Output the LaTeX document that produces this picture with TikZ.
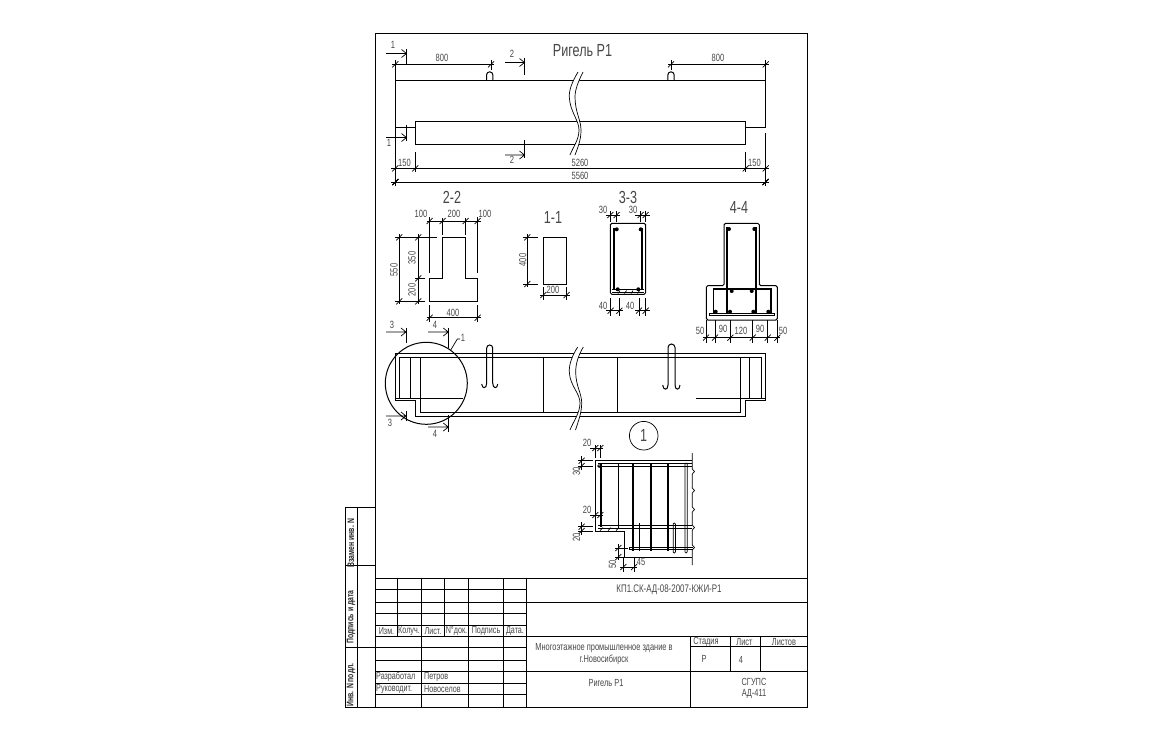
\documentclass[tikz,border=0pt]{standalone}
\usepackage{fontspec}
\setmainfont[FakeStretch=0.72]{Liberation Sans}
\newcount\labno
\tikzset{
  x=1pt,y=-1pt,
  ln/.style={line width=1pt,black},
  thk/.style={line width=1.7pt,black},
  thn/.style={line width=.7pt,black},
  dm/.style={line width=.7pt,black},
  arr/.style={line width=.7pt,black},
  txt/.style={inner sep=0pt,text=black!72,font=\fontsize{10.5}{11}\selectfont},
  blk/.style={inner sep=0pt,text=black!72,font=\fontsize{10.3}{11}\selectfont},
  big/.style={inner sep=0pt,text=black!72,font=\fontsize{17.5}{18}\selectfont},
  sm/.style={inner sep=0pt,text=black!72,font=\fontsize{10}{11}\selectfont},
  side/.style={inner sep=0pt,rotate=90,text=black!85,font=\fontsize{9.5}{10}\bfseries\selectfont},
  bar/.style={circle,fill=black,inner sep=0pt,minimum size=4pt}
}
\newcommand{\lab}[4][txt]{\global\advance\labno by 1 \node[#1] (lab\the\labno) at (#2,#3) {#4};}
\newcommand{\tk}[2]{\draw[dm] (#1-3,#2+3) -- (#1+3,#2-3);}
\newcommand{\hdim}[3]{\draw[dm] (#2-3,#1) -- (#3+3,#1); \tk{#2}{#1} \tk{#3}{#1}}
\newcommand{\vdim}[3]{\draw[dm] (#1,#2-3) -- (#1,#3+3); \tk{#1}{#2} \tk{#1}{#3}}
\newcommand{\secmark}[4]{\draw[arr] (#1,#3) -- (#2,#3) (#2-5,#3-4) -- (#2,#3) -- (#2-5,#3+4); \draw[arr] (#2,#3) -- (#2,#4);}
\begin{document}
\begin{tikzpicture}
\useasboundingbox (0,0) rectangle (1153,740);
\fill[white] (0,0) rectangle (1153,740);
% sheet frame
\draw[ln] (375,33.5) rectangle (807,707);
\draw[ln] (345.5,507) rectangle (375,707);
\draw[ln] (357,507) -- (357,707) (345.5,565.5) -- (375,565.5) (345.5,647) -- (375,647);
% title block
\foreach \yy in {589,613.5,625,647,660,683,694} \draw[ln] (375,\yy) -- (526,\yy);
\foreach \yy in {578,602,636,671} \draw[ln] (375,\yy) -- (807,\yy);
\foreach \xx in {397.3,444.3} \draw[ln] (\xx,578) -- (\xx,636);
\foreach \xx in {421.3,468.3,503.7,526} \draw[ln] (\xx,578) -- (\xx,707);
\draw[ln] (690.3,636) -- (690.3,707) (730,636) -- (730,671) (760.7,636) -- (760.7,671) (690.3,646) -- (807,646);
\lab[side]{351}{543}{Взамен инв. N}
\lab[side]{351}{617}{Подпись и дата}
\lab[side]{351}{685}{Инв. N подл.}
\lab[sm]{386.5}{631}{Изм.}
\lab[sm]{409}{631}{Колуч.}
\lab[sm]{433}{631}{Лист.}
\lab[sm]{456.5}{631}{N°док.}
\lab[sm]{486}{631}{Подпись}
\lab[sm]{515}{631}{Дата.}
\lab[sm,anchor=west]{376}{677}{Разработал}
\lab[sm,anchor=west]{424}{677}{Петров}
\lab[sm,anchor=west]{376}{689}{Руководит.}
\lab[sm,anchor=west]{424}{689}{Новоселов}
\lab[txt,font=\fontsize{11}{12}\selectfont]{669}{590}{КП1.СК-АД-08-2007-КЖИ-Р1}
\lab[blk]{604}{648}{Многоэтажное промышленное здание в}
\lab[blk]{604}{660}{г.Новосибирск}
\lab[blk]{606}{683}{Ригель Р1}
\lab[blk]{706}{642}{Стадия}
\lab[blk]{744.5}{642}{Лист}
\lab[blk]{784}{642}{Листов}
\lab[blk]{704}{659}{Р}
\lab[blk]{741}{660}{4}
\lab[blk]{754}{682}{СГУПС}
\lab[blk]{754}{694}{АД-411}
% ---- elevation
\lab[big]{582.5}{50.5}{Ригель Р1}
\draw[ln] (395.3,127.3) -- (395.3,80.3) -- (765.7,80.3) -- (765.7,127.3) -- (745.7,127.3) (745.7,121) -- (745.7,144.3) -- (415.3,144.3) -- (415.3,121) -- cycle (415.3,127.3) -- (395.3,127.3);
\fill[white] (578,72) .. controls (572,82) and (569,90) .. (569.3,97) .. controls (570,112) and (579,120) .. (579,130) .. controls (579,140) and (573,147) .. (570,155) -- (575,155) .. controls (578,147) and (581,140) .. (581,130) .. controls (581,120) and (575,112) .. (575,97) .. controls (575,90) and (578,82) .. (583,72) -- cycle;
\draw[thn] (578,72) .. controls (572,82) and (569,90) .. (569.3,97) .. controls (570,112) and (579,120) .. (579,130) .. controls (579,140) and (573,147) .. (570,155);
\draw[thn] (583,72) .. controls (578,82) and (575,90) .. (575,97) .. controls (575,112) and (581,120) .. (581,130) .. controls (581,140) and (578,147) .. (575,155);
\draw[ln] (486.5,80) -- (486.5,75) arc[start angle=180,end angle=360,radius=3.2] -- (492.9,80);
\draw[ln] (667.8,80) -- (667.8,75) arc[start angle=180,end angle=360,radius=3.2] -- (674.2,80);
\hdim{64.3}{395.3}{491}
\hdim{64.3}{671}{765.7}
\draw[dm] (395.3,60) -- (395.3,80) (491,60) -- (491,70) (671,60) -- (671,70) (765.7,60) -- (765.7,80);
\lab{442}{58}{800}
\lab{718}{58}{800}
\secmark{386}{406.5}{53.5}{65}
\draw[arr] (406.5,49) -- (406.5,53.5);
\lab{393}{45}{1}
\secmark{386}{406.5}{137.5}{125}
\draw[arr] (406.5,137.5) -- (406.5,141);
\lab{389}{143}{1}
\secmark{505}{524.5}{62.5}{75}
\draw[arr] (524.5,58) -- (524.5,62.5);
\lab{512}{54}{2}
\secmark{505}{524.5}{155}{140}
\draw[arr] (524.5,155) -- (524.5,158);
\lab{512}{160}{2}
\draw[dm] (391,168.3) -- (769,168.3) (391,182) -- (769,182);
\foreach \xx in {395.3,415.3,745.7,765.7} \tk{\xx}{168.3}
\foreach \xx in {395.3,765.7} \tk{\xx}{182}
\draw[dm] (395.3,127.3) -- (395.3,186) (415.3,152) -- (415.3,172) (745.7,152) -- (745.7,172) (765.7,133) -- (765.7,186);
\lab{404.5}{163}{150}
\lab{754.5}{163}{150}
\lab{580}{163}{5260}
\lab{580}{176}{5560}
% ---- section 2-2
\lab[big]{452}{197}{2-2}
\draw[ln] (442.7,237.3) -- (465.7,237.3) -- (465.7,278.3) -- (477.7,278.3) -- (477.7,301.3) -- (429.7,301.3) -- (429.7,278.3) -- (442.7,278.3) -- cycle;
\draw[dm] (426.7,221) -- (480.7,221);
\foreach \xx in {429.7,442.7,465.7,477.7} \tk{\xx}{221}
\draw[dm] (429.7,217) -- (429.7,273) (477.7,217) -- (477.7,273) (442.7,218) -- (442.7,235) (465.7,218) -- (465.7,235);
\lab{421}{214}{100}
\lab{454}{214}{200}
\lab{485}{214}{100}
\vdim{399.3}{237.3}{301.3}
\draw[dm] (418.3,234) -- (418.3,304);
\foreach \yy in {237.3,278.3,301.3} \tk{418.3}{\yy}
\draw[dm] (395,237.3) -- (437,237.3) (415,278.3) -- (425,278.3) (395,301.3) -- (425,301.3);
\lab[txt,rotate=90]{394}{270}{550}
\lab[txt,rotate=90]{412}{258}{350}
\lab[txt,rotate=90]{412}{290}{200}
\hdim{317.7}{429.7}{477.7}
\draw[dm] (429.7,305) -- (429.7,322) (477.7,305) -- (477.7,322);
\lab{453}{313}{400}
% ---- section 1-1
\lab[big]{553}{217}{1-1}
\draw[ln] (543.3,237.3) rectangle (566.7,284);
\vdim{527.3}{237.3}{284}
\draw[dm] (523,237.3) -- (538,237.3) (523,284) -- (538,284);
\lab[txt,rotate=90]{522.7}{260}{400}
\hdim{295}{543.3}{566.7}
\draw[dm] (543.3,287) -- (543.3,300) (566.7,287) -- (566.7,300);
\lab{553}{290}{200}
% ---- section 3-3
\lab[big]{628}{197}{3-3}
\draw[ln,rounded corners=1.5pt] (610.3,223.3) rectangle (645.7,294.3);
\draw[thk] (614.3,228) -- (614.3,290) (641.7,228) -- (641.7,290);
\draw[thn] (612,289.8) -- (644,289.8) (612,292) -- (644,292);
\foreach \xx in {618,624.5,631,637.5} \draw[thn] (\xx,293.5) -- (\xx+2,290.5);
\node[bar] (b1) at (616.7,229.3) {};
\node[bar] (b2) at (640.7,229.3) {};
\node[bar] (b3) at (617.7,289.3) {};
\node[bar] (b4) at (638.3,289.3) {};
\draw[dm] (606,215) -- (620,215) (635,215) -- (650,215);
\foreach \xx in {610.3,616.7,640.7,645.7} {\tk{\xx}{215} \draw[dm] (\xx,211) -- (\xx,222);}
\lab{603}{210}{30}
\lab{633}{210}{30}
\draw[dm] (606,310.7) -- (623,310.7) (635,310.7) -- (650,310.7);
\foreach \xx in {610.7,619.3,639,645.7} {\tk{\xx}{310.7} \draw[dm] (\xx,298) -- (\xx,316);}
\lab{603}{306}{40}
\lab{630}{306}{40}
% ---- section 4-4
\lab[big]{739}{207}{4-4}
\draw[ln,rounded corners=1.5pt] (724,285.7) -- (724,223.3) -- (759.3,223.3) -- (759.3,285.7) -- (777.3,285.7) -- (777.3,320) -- (706.3,320) -- (706.3,285.7) -- cycle;
\draw[thk] (726.7,227) -- (726.7,314) (756,227) -- (756,314);
\draw[thk] (713.5,314) -- (713.5,289) -- (771,289) -- (771,314);
\draw[thn] (709,313) -- (774,313) (709,315.5) -- (774,315.5) (709,313) -- (709,315.5) (774,313) -- (774,315.5);
\foreach \xx/\yy [count=\i] in {729/229,754.3/229,731.7/291,751.7/291,715.7/311.7,730/311.7,753.3/311.7,768.3/311.7}
  \node[bar] (c\i) at (\xx,\yy) {};
\draw[dm] (703,337.7) -- (780,337.7);
\foreach \xx in {706,715,730.3,752.7,767.7,777.3} {\tk{\xx}{337.7} \draw[dm] (\xx,320) -- (\xx,343);}
\lab{700}{331}{50}
\lab{723}{329}{90}
\lab{741}{331}{120}
\lab{760}{329}{90}
\lab{783}{331}{50}
% ---- reinforcement elevation
\draw[ln] (395.7,400.7) -- (395.7,353.3) -- (765.7,353.3) -- (765.7,400) -- (745.7,400) -- (745.7,416.7) -- (415.7,416.7) -- (415.7,400.7) -- cycle;
\draw[ln] (399.3,398.3) -- (399.3,357.7) -- (761.7,357.7) -- (761.7,398.3);
\draw[ln] (395.7,398.3) -- (463.3,398.3) (696,398.3) -- (765.7,398.3);
\draw[ln] (410.3,357.7) -- (410.3,398.3) (749.3,357.7) -- (749.3,398.3);
\draw[ln] (420.3,357.7) -- (420.3,412.3) -- (740.7,412.3) -- (740.7,357.7);
\draw[ln] (543.3,357.7) -- (543.3,412.3) (617.3,357.7) -- (617.3,412.3);
\fill[white] (577.7,347) .. controls (572,356) and (569,364) .. (569.3,372) .. controls (570,386) and (580,393) .. (580,403) .. controls (580,413) and (573,422) .. (570,430) -- (575.5,430) .. controls (578,422) and (581.7,413) .. (581.7,403) .. controls (581.7,393) and (575.7,386) .. (575.7,372) .. controls (575.7,364) and (578,356) .. (583.3,347) -- cycle;
\draw[thn] (577.7,347) .. controls (572,356) and (569,364) .. (569.3,372) .. controls (570,386) and (580,393) .. (580,403) .. controls (580,413) and (573,422) .. (570,430);
\draw[thn] (583.3,347) .. controls (578,356) and (575.7,364) .. (575.7,372) .. controls (575.7,386) and (581.7,393) .. (581.7,403) .. controls (581.7,413) and (578,422) .. (575.5,430);
\draw[ln] (481.7,384) .. controls (482,389) and (486.7,389) .. (486.7,383) -- (486.7,348) arc[start angle=180,end angle=360,radius=3] -- (492.7,383) .. controls (492.7,389) and (497.5,389) .. (497.7,384);
\draw[ln] (662.7,385) .. controls (663,390.5) and (668,390.5) .. (668,385) -- (668,347.5) arc[start angle=180,end angle=360,radius=3.5] -- (675,385) .. controls (675,390.5) and (679.7,390.5) .. (680,385);
\node[draw,ln,circle,inner sep=0pt,minimum size=82pt] (zone) at (426.3,383.3) {};
\draw[thn] (450.7,350) -- (457.3,339) -- (460,339);
\lab{463}{338}{1}
\secmark{386}{406}{332}{343}
\draw[arr] (406,328) -- (406,332);
\lab{392}{325}{3}
\secmark{428}{448.3}{332}{348}
\draw[arr] (448.3,328) -- (448.3,332);
\lab{435}{325}{4}
\secmark{386}{406}{416}{411}
\draw[arr] (406,416) -- (406,421);
\lab{390}{423}{3}
\secmark{428}{448.3}{427}{415}
\draw[arr] (448.3,427) -- (448.3,432);
\lab{435}{434}{4}
% ---- detail 1
\node[draw,thn,circle,inner sep=0pt,minimum size=28.6pt,font=\fontsize{17.5}{18}\selectfont,text=black!72] (det) at (643.7,435.7) {1};
\draw[ln] (692.3,460.7) -- (595.7,460.7) -- (595.7,531) -- (624.3,531) -- (624.3,557) -- (692.3,557);
\draw[thn] (598,466) -- (692,466) (598,463.8) -- (692,463.8);
\draw[thn] (598,525.5) -- (692,525.5) (598,528) -- (692,528);
\draw[thn] (629,547) -- (693,547) (629,549.5) -- (693,549.5) (629,547) -- (629,549.5);
\node[circle,draw,thn,inner sep=0pt,minimum size=3pt] (d1) at (599,466) {};
\foreach \xx in {600,608,616} \draw[thn] (\xx,530.5) -- (\xx+3,527.5);
\draw[thk] (600.7,463) -- (600.7,527) (632.7,463) -- (632.7,551) (650.7,463) -- (650.7,551) (667.7,463) -- (667.7,551);
\draw[thn] (618.3,464) -- (618.3,528) (639.3,523) -- (639.3,551);
\draw[thn,rounded corners=1pt] (685,553) -- (685,463) -- (687.2,463) -- (687.2,553) -- cycle;
\draw[thn,rounded corners=1pt] (673.2,553) -- (673.2,523) -- (675.4,523) -- (675.4,553) -- cycle;
\draw[thn] (692.3,453) -- (692.3,469) -- (694.5,471.5) -- (692.3,474) -- (692.3,488) -- (694.5,490.5) -- (692.3,493) -- (692.3,507) -- (694.5,509.5) -- (692.3,512) -- (692.3,525) -- (694.5,527.5) -- (692.3,530) -- (692.3,545) -- (694.5,547.5) -- (692.3,550) -- (692.3,565);
\draw[dm] (590,448) -- (603,448);
\foreach \xx in {595.3,600.3} {\tk{\xx}{448} \draw[dm] (\xx,445) -- (\xx,458);}
\lab{587}{443}{20}
\draw[dm] (590,515) -- (603,515);
\foreach \xx in {595.3,600.3} {\tk{\xx}{515} \draw[dm] (\xx,510) -- (\xx,522);}
\lab{587}{510}{20}
\draw[dm] (581.7,456) -- (581.7,470) (581.7,522) -- (581.7,535);
\foreach \yy in {460.7,466,526.7,531} {\tk{581.7}{\yy} \draw[dm] (578,\yy) -- (593,\yy);}
\lab[txt,rotate=90]{576.5}{471}{30}
\lab[txt,rotate=90]{576.5}{537}{20}
\draw[dm] (618.3,544) -- (618.3,560);
\foreach \yy in {548,557} {\tk{618.3}{\yy} \draw[dm] (615,\yy) -- (628,\yy);}
\lab[txt,rotate=90]{612.5}{564}{50}
\draw[dm] (620,567) -- (637,567);
\foreach \xx in {623.3,634} {\tk{\xx}{567} \draw[dm] (\xx,557) -- (\xx,572);}
\lab{641}{562}{45}
\end{tikzpicture}
\end{document}
